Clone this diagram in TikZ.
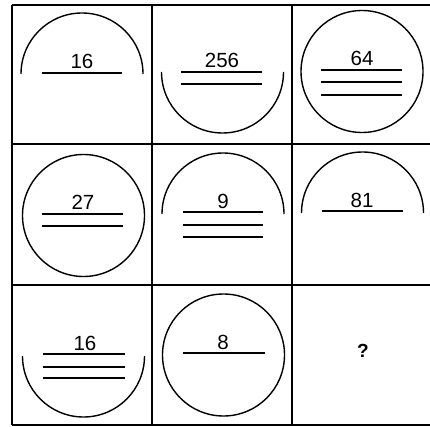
\documentclass[tikz,border=0pt]{standalone}
\usepackage{fontspec}
\setmainfont{Liberation Sans}
\begin{document}
\begin{tikzpicture}[x=1pt,y=1pt,
  gridline/.style={line width=1.8pt},
  figline/.style={line width=1.4pt},
  bar/.style={line width=1.8pt},
  num/.style={anchor=base,inner sep=0pt,font=\fontsize{20.5}{20.5}\selectfont},
  quest/.style={anchor=base,inner sep=0pt,font=\fontsize{19}{19}\selectfont\bfseries}]
\useasboundingbox (0,0) rectangle (430,426);
% grid
\draw[gridline] (12,421) -- (430,421);
\draw[gridline] (12,282) -- (430,282);
\draw[gridline] (12,141) -- (430,141);
\draw[gridline] (12,1) -- (430,1);
\draw[gridline] (12,1) -- (12,421);
\draw[gridline] (152,1) -- (152,421);
\draw[gridline] (292,1) -- (292,421);
% row 1
\draw[figline] (21,352) arc[start angle=180,end angle=0,radius=61];
\draw[bar] (42,353) -- (122,353);
\node[num] (t1) at (82,357) {16};
\draw[figline] (161.5,354) arc[start angle=180,end angle=360,radius=61];
\draw[bar] (181,354) -- (262,354);
\draw[bar] (181,342) -- (262,342);
\node[num] (t2) at (222,358) {256};
\draw[figline] (362,354.5) circle[radius=61];
\draw[bar] (321,356) -- (402,356);
\draw[bar] (321,344) -- (402,344);
\draw[bar] (321,331) -- (402,331);
\node[num] (t3) at (362,360) {64};
% row 2
\draw[figline] (83.5,210.5) circle[radius=61];
\draw[bar] (42,212) -- (123,212);
\draw[bar] (42,200) -- (123,200);
\node[num] (t4) at (83,217) {27};
\draw[figline] (162,212) arc[start angle=180,end angle=0,radius=61];
\draw[bar] (183,214) -- (263,214);
\draw[bar] (183,201) -- (263,201);
\draw[bar] (183,189) -- (263,189);
\node[num] (t5) at (223,218) {9};
\draw[figline] (301.5,213) arc[start angle=180,end angle=0,radius=61];
\draw[bar] (322,215) -- (403,215);
\node[num] (t6) at (362,219) {81};
% row 3
\draw[figline] (22.5,70) arc[start angle=180,end angle=360,radius=61];
\draw[bar] (43,72) -- (125,72);
\draw[bar] (43,59) -- (125,59);
\draw[bar] (43,48) -- (125,48);
\node[num] (t7) at (85,76) {16};
\draw[figline] (223.5,71) circle[radius=61];
\draw[bar] (183,73) -- (265,73);
\node[num] (t8) at (223,77) {8};
\node[quest] (t9) at (363,69) {?};
\end{tikzpicture}
\end{document}
